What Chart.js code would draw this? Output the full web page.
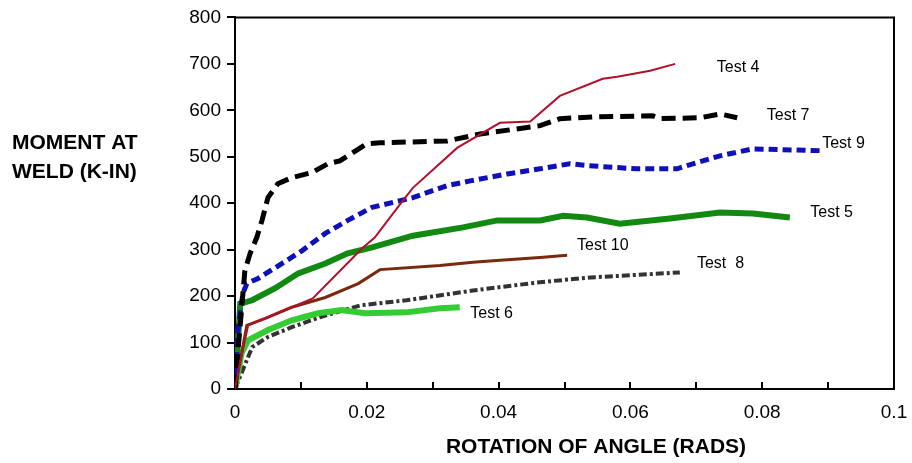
<!DOCTYPE html>
<html>
<head>
<meta charset="utf-8">
<script src="https://cdn.jsdelivr.net/npm/chart.js@4"></script>
<style>
  body { margin: 0; background: #fff; }
  canvas { display: block; }
</style>
</head>
<body>
<canvas id="weldChart" width="912" height="463"></canvas>
<script>
// Moment at weld vs rotation
const test4X = [0, 0.0008, 0.002, 0.0118, 0.0193, 0.0212, 0.0255, 0.027, 0.0337, 0.0402, 0.0448, 0.0493, 0.0558, 0.058, 0.063, 0.0668];
const test4Y = [0, 60, 137, 195, 303, 326, 406, 433, 519, 573, 576, 631, 668, 672, 685, 700];

const test7X = [0, 0.0005, 0.0015, 0.0023, 0.0033, 0.0041, 0.005, 0.0065, 0.0086, 0.0117, 0.0141, 0.0159, 0.02, 0.022, 0.0322, 0.0372, 0.0463, 0.0493, 0.0545, 0.0634, 0.0645, 0.0706, 0.0736, 0.0762];
const test7Y = [0, 90, 255, 292, 326, 363, 412, 442, 455, 466, 485, 491, 528, 530, 534, 549, 567, 582, 586, 588, 582, 584, 592, 584];

const test9X = [0, 0.0005, 0.0012, 0.0018, 0.0035, 0.0071, 0.0102, 0.0137, 0.0171, 0.0208, 0.027, 0.0322, 0.0357, 0.0413, 0.0463, 0.0508, 0.0534, 0.061, 0.0671, 0.0686, 0.0736, 0.0786, 0.0892];
const test9Y = [0, 133, 206, 227, 238, 270, 298, 335, 363, 391, 412, 438, 448, 463, 474, 485, 481, 474, 474, 481, 502, 517, 513];

const test5X = [0, 0.0008, 0.0026, 0.0061, 0.0096, 0.0137, 0.0171, 0.0208, 0.027, 0.0346, 0.0398, 0.0463, 0.0498, 0.0534, 0.0584, 0.066, 0.0736, 0.0786, 0.0842];
const test5Y = [0, 184, 191, 217, 249, 270, 292, 305, 330, 348, 363, 363, 373, 369, 356, 367, 380, 378, 369];

const test10X = [0, 0.0018, 0.0046, 0.0086, 0.0137, 0.0187, 0.022, 0.0311, 0.0361, 0.0402, 0.0463, 0.0504];
const test10Y = [0, 137, 152, 176, 197, 227, 257, 266, 273, 277, 283, 288];

const test8X = [0, 0.0026, 0.005, 0.0086, 0.013, 0.019, 0.026, 0.0361, 0.0463, 0.0539, 0.0675];
const test8Y = [0, 90, 112, 133, 155, 180, 191, 212, 230, 240, 251];

const test6X = [0, 0.001, 0.002, 0.005, 0.0086, 0.0126, 0.0162, 0.0197, 0.026, 0.0311, 0.0341];
const test6Y = [0, 77, 105, 127, 148, 163, 170, 163, 165, 174, 176];

// series label text and where it sits (in data units)
const labelNames = ["Test 4", "Test 7", "Test 9", "Test 5", "Test 10", "Test  8", "Test 6"];
const labelX = [0.0731, 0.0807, 0.0891, 0.0873, 0.0519, 0.0701, 0.0357];
const labelY = [691, 588, 528, 380, 309, 270, 163];

const FONT = "'Liberation Sans', Arial, sans-serif";

const pts = (xs, ys) => xs.map((x, i) => ({ x: x, y: ys[i] }));

const series = (label, xs, ys, color, width, dash, order) => ({
  label: label,
  data: pts(xs, ys),
  borderColor: color,
  borderWidth: width,
  borderDash: dash,
  borderCapStyle: "butt",
  pointRadius: 0,
  tension: 0,
  fill: false,
  order: order,
});

// text, frame and inner x ticks
const extrasPlugin = {
  id: "extras",
  afterDraw(chart) {
    const ctx = chart.ctx;
    const area = chart.chartArea;
    const xs = chart.scales.x;
    const ys = chart.scales.y;
    ctx.save();

    // top and right frame
    ctx.strokeStyle = "#000";
    ctx.lineWidth = 2;
    ctx.beginPath();
    ctx.moveTo(area.left, area.top);
    ctx.lineTo(area.right, area.top);
    ctx.lineTo(area.right, area.bottom);
    ctx.stroke();

    // x ticks point up into the plot
    ctx.beginPath();
    for (let i = 1; i < 10; i++) {
      const px = Math.round(xs.getPixelForValue(i / 100));
      ctx.moveTo(px, area.bottom);
      ctx.lineTo(px, area.bottom - 7);
    }
    ctx.stroke();

    // series labels
    ctx.fillStyle = "#000";
    ctx.font = "16px " + FONT;
    ctx.textAlign = "left";
    ctx.textBaseline = "middle";
    labelNames.forEach((name, i) => {
      ctx.fillText(name, xs.getPixelForValue(labelX[i]), ys.getPixelForValue(labelY[i]));
    });

    // axis titles
    ctx.font = "bold 21px " + FONT;
    ctx.fillText("MOMENT AT", 12, 143);
    ctx.fillText("WELD (K-IN)", 12, 172);
    ctx.textAlign = "center";
    ctx.fillText("ROTATION OF ANGLE (RADS)", 596, 447);

    ctx.restore();
  },
};

new Chart(document.getElementById("weldChart"), {
  type: "line",
  data: {
    datasets: [
      series("Test 4", test4X, test4Y, "#b3102d", 2, [], 1),
      series("Test 7", test7X, test7Y, "#000000", 5, [14, 7], 2),
      series("Test 9", test9X, test9Y, "#1010bb", 5, [9, 5], 3),
      series("Test 5", test5X, test5Y, "#128a12", 6, [], 4),
      series("Test 10", test10X, test10Y, "#7a2a0c", 3, [], 5),
      series("Test 6", test6X, test6Y, "#33cc33", 6, [], 6),
      series("Test 8", test8X, test8Y, "#333333", 4, [8, 3, 3, 3], 7),
    ],
  },
  options: {
    responsive: false,
    animation: false,
    devicePixelRatio: 1,
    layout: { padding: { left: 0, right: 18, top: 16, bottom: 0 } },
    plugins: {
      legend: { display: false },
      tooltip: { enabled: false },
    },
    scales: {
      x: {
        type: "linear",
        min: 0,
        max: 0.1,
        afterFit: (scale) => {
          scale.height = 74;
          scale.paddingLeft = 0;
          scale.paddingRight = 0;
        },
        border: { display: true, color: "#000", width: 2 },
        grid: { drawOnChartArea: false, drawTicks: false },
        ticks: {
          stepSize: 0.01,
          autoSkip: false,
          maxRotation: 0,
          padding: 12,
          color: "#000",
          font: { family: FONT, size: 19 },
          callback: (v, i) => (i % 2 === 0 ? String(Number(v.toFixed(2))) : ""),
        },
      },
      y: {
        min: 0,
        max: 800,
        afterFit: (scale) => { scale.width = 235; },
        border: { display: true, color: "#000", width: 2 },
        grid: { drawOnChartArea: false, drawTicks: true, tickLength: 8, color: "#000", lineWidth: 2 },
        ticks: {
          stepSize: 100,
          padding: 6,
          color: "#000",
          font: { family: FONT, size: 19 },
        },
      },
    },
  },
  plugins: [extrasPlugin],
});
</script>
</body>
</html>
